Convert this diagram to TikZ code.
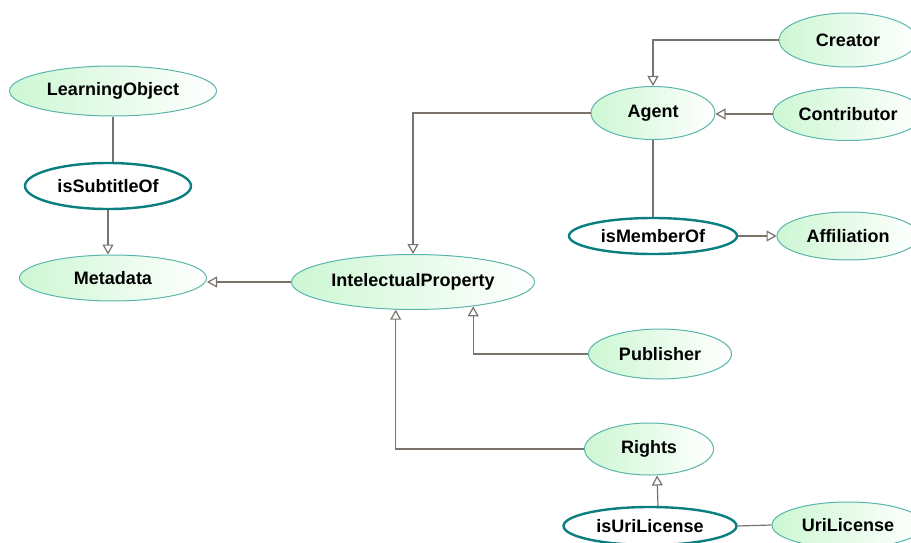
\documentclass[tikz,border=0pt]{standalone}
\usepackage{fontspec}
\setmainfont{Liberation Sans}
\usetikzlibrary{shapes, arrows.meta}
\definecolor{conceptfill}{HTML}{CDF7D3}
\definecolor{conceptline}{HTML}{5AB5AC}
\definecolor{relline}{HTML}{0B7F7F}
\definecolor{edgeline}{HTML}{7A736B}

\begin{document}
\begin{tikzpicture}[x=1pt, y=-1pt,
		font=\fontsize{18}{20}\selectfont\bfseries,
		concept/.style={ellipse, draw=conceptline, line width=1pt, left color=conceptfill, right color=white, inner sep=0pt},
		relation/.style={ellipse, draw=relline, line width=2.4pt, fill=white, inner sep=0pt},
		edge/.style={draw=edgeline, line width=1.2pt},
		isa/.style={edge, -{Triangle[open, length=10pt, width=11pt]}}]
		\useasboundingbox (0,0) rectangle (911,543);
		\clip (0,0) rectangle (911,543);

		\node[concept, minimum width=207pt, minimum height=50pt] (n-LearningObject) at (113,91) {LearningObject};
		\node[relation, minimum width=166pt, minimum height=46pt] (n-isSubtitleOf) at (108,186) {isSubtitleOf};
		\node[concept, minimum width=187pt, minimum height=46pt] (n-Metadata) at (113,278) {Metadata};
		\node[concept, minimum width=243pt, minimum height=55pt] (n-IntelectualProperty) at (413,282) {IntelectualProperty};

		\node[concept, minimum width=124pt, minimum height=53pt] (n-Agent) at (653,113) {Agent};
		\node[concept, minimum width=138pt, minimum height=54pt] (n-Creator) at (848,40) {Creator};
		\node[concept, minimum width=150pt, minimum height=53pt] (n-Contributor) at (848,114) {Contributor};
		\node[relation, minimum width=168pt, minimum height=36pt] (n-isMemberOf) at (653,236) {isMemberOf};
		\node[concept, minimum width=142pt, minimum height=48pt] (n-Affiliation) at (848,236) {Affiliation};

		\node[concept, minimum width=143pt, minimum height=50pt] (n-Publisher) at (660,354) {Publisher};
		\node[concept, minimum width=129pt, minimum height=52pt] (n-Rights) at (649,449) {Rights};
		\node[relation, minimum width=173pt, minimum height=38pt] (n-isUriLicense) at (650,526) {isUriLicense};
		\node[concept, minimum width=152pt, minimum height=46pt] (n-UriLicense) at (848,525) {UriLicense};

		\draw[edge] (n-LearningObject.south) -- (n-LearningObject.south |- n-isSubtitleOf.north);
		\draw[isa] (n-isSubtitleOf.south) -- (n-isSubtitleOf.south |- n-Metadata.north);
		\draw[isa] (n-IntelectualProperty.west) -- (n-IntelectualProperty.west -| n-Metadata.east);
		\draw[isa] (n-Agent.west) -| (n-IntelectualProperty.north);
		\draw[isa] (n-Creator.west) -| (n-Agent.north);
		\draw[isa] (n-Contributor.west) -- (n-Contributor.west -| n-Agent.east);
		\draw[edge] (n-Agent.south) -- (n-isMemberOf.north);
		\draw[isa] (n-isMemberOf.east) -- (n-Affiliation.west);
		\draw[isa] (n-Publisher.west) -| (n-IntelectualProperty.-22);
		\draw[isa] (n-Rights.west) -| (n-IntelectualProperty.-122);
		\draw[isa] ([xshift=8pt]n-isUriLicense.north) -- ([xshift=8pt]n-Rights.south);
		\draw[edge] (n-isUriLicense.east) -- (n-UriLicense.west);
	\end{tikzpicture}
\end{document}
